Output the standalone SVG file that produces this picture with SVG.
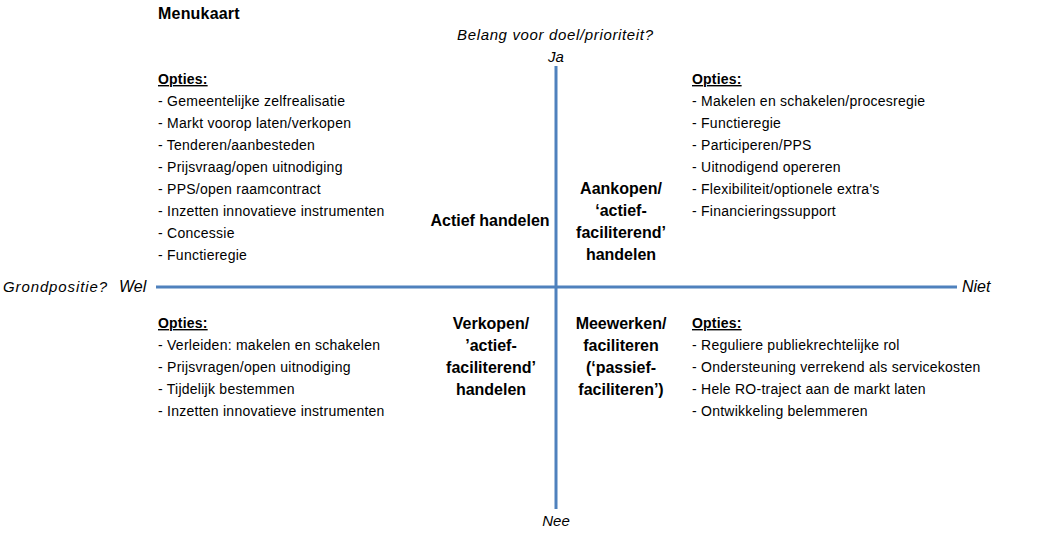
<svg xmlns="http://www.w3.org/2000/svg" width="1038" height="553" viewBox="0 0 1038 553">
<style>
text{font-family:"Liberation Sans",Arial,sans-serif;font-size:14px;fill:#000;letter-spacing:0.25px}
.b{font-weight:bold;font-size:16px;letter-spacing:0.2px}
.i{font-style:italic;font-size:15px;letter-spacing:0}
.h{font-weight:bold;text-decoration:underline;letter-spacing:0.2px}
.c{text-anchor:middle;font-weight:bold;font-size:16px;letter-spacing:0}
.ax{stroke:#4F81BD;stroke-width:3;fill:none}
</style>
<rect width="1038" height="553" fill="#fff"/>
<text id="title" class="b" x="158" y="19">Menukaart</text>
<g id="connectors">
<line class="ax" x1="556" y1="66" x2="556" y2="509"/>
<line class="ax" x1="156" y1="287" x2="957" y2="287"/>
</g>
<g id="axis-labels">
<text class="i" x="457" y="40" textLength="196" lengthAdjust="spacing">Belang voor doel/prioriteit?</text>
<text class="i" x="556" y="62" text-anchor="middle">Ja</text>
<text class="i" x="556" y="526" text-anchor="middle">Nee</text>
<text class="i" x="3" y="292" textLength="104" lengthAdjust="spacing">Grondpositie?</text>
<text class="i" x="119" y="292" style="font-size:16px">Wel</text>
<text class="i" x="962" y="292" style="font-size:16px">Niet</text>
</g>
<g id="options-top-left">
<text class="h" x="158" y="84">Opties:</text>
<text x="158" y="106">- Gemeentelijke zelfrealisatie</text>
<text x="158" y="128">- Markt voorop laten/verkopen</text>
<text x="158" y="150">- Tenderen/aanbesteden</text>
<text x="158" y="172">- Prijsvraag/open uitnodiging</text>
<text x="158" y="194">- PPS/open raamcontract</text>
<text x="158" y="216">- Inzetten innovatieve instrumenten</text>
<text x="158" y="238">- Concessie</text>
<text x="158" y="260">- Functieregie</text>
</g>
<g id="options-top-right">
<text class="h" x="692" y="84">Opties:</text>
<text x="692" y="106">- Makelen en schakelen/procesregie</text>
<text x="692" y="128">- Functieregie</text>
<text x="692" y="150">- Participeren/PPS</text>
<text x="692" y="172">- Uitnodigend opereren</text>
<text x="692" y="194">- Flexibiliteit/optionele extra's</text>
<text x="692" y="216">- Financieringssupport</text>
</g>
<g id="options-bottom-left">
<text class="h" x="158" y="328">Opties:</text>
<text x="158" y="350">- Verleiden: makelen en schakelen</text>
<text x="158" y="372">- Prijsvragen/open uitnodiging</text>
<text x="158" y="394">- Tijdelijk bestemmen</text>
<text x="158" y="416">- Inzetten innovatieve instrumenten</text>
</g>
<g id="options-bottom-right">
<text class="h" x="692" y="328">Opties:</text>
<text x="692" y="350">- Reguliere publiekrechtelijke rol</text>
<text x="692" y="372">- Ondersteuning verrekend als servicekosten</text>
<text x="692" y="394">- Hele RO-traject aan de markt laten</text>
<text x="692" y="416">- Ontwikkeling belemmeren</text>
</g>
<g id="q-top-left">
<text class="c" x="490" y="226">Actief handelen</text>
</g>
<g id="q-top-right">
<text class="c" x="621" y="194">Aankopen/</text>
<text class="c" x="621" y="216">‘actief-</text>
<text class="c" x="621" y="238">faciliterend’</text>
<text class="c" x="621" y="260">handelen</text>
</g>
<g id="q-bottom-left">
<text class="c" x="491" y="329">Verkopen/</text>
<text class="c" x="491" y="351">’actief-</text>
<text class="c" x="491" y="373">faciliterend’</text>
<text class="c" x="491" y="395">handelen</text>
</g>
<g id="q-bottom-right">
<text class="c" x="621" y="329">Meewerken/</text>
<text class="c" x="621" y="351">faciliteren</text>
<text class="c" x="621" y="373">(‘passief-</text>
<text class="c" x="621" y="395">faciliteren’)</text>
</g>
</svg>
